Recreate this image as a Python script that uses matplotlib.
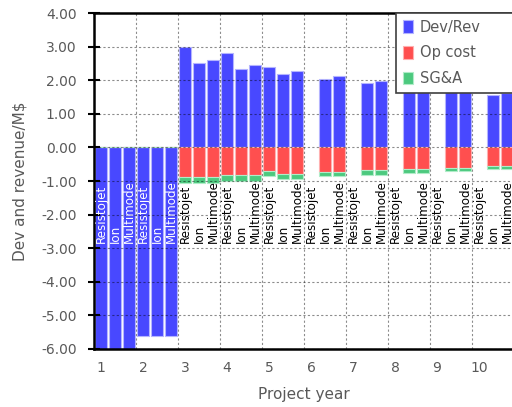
# -*- coding: utf-8 -*-

# plot.py

import matplotlib
matplotlib.use("Agg")
import matplotlib.pyplot as plt
import numpy as np

years = [1, 2, 3, 4, 5, 6, 7, 8, 9, 10]
bar_labels = ["Resistojet", "Ion", "Multimode"]

nan = np.nan
dev_rev = [
    [-6.0, -5.6, 2.98, 2.80, 2.38, nan, nan, nan, nan, nan],
    [-6.0, -5.6, 2.51, 2.34, 2.19, 2.04, 1.91, 1.85, 1.75, 1.55],
    [-6.0, -5.6, 2.60, 2.44, 2.27, 2.12, 1.98, 1.92, 1.82, 1.62],
]
op_cost = [
    [0, 0, -0.88, -0.83, -0.71, nan, nan, nan, nan, nan],
    [0, 0, -0.88, -0.83, -0.78, -0.72, -0.68, -0.63, -0.60, -0.55],
    [0, 0, -0.88, -0.83, -0.78, -0.72, -0.68, -0.63, -0.60, -0.55],
]
sga = [
    [0, 0, -0.18, -0.16, -0.13, nan, nan, nan, nan, nan],
    [0, 0, -0.18, -0.16, -0.15, -0.14, -0.13, -0.12, -0.11, -0.10],
    [0, 0, -0.18, -0.16, -0.15, -0.14, -0.13, -0.12, -0.11, -0.10],
]

blue = "#4848ff"
red = "#ff4f4f"
green = "#4cc97e"
grey = "#595959"

fig = plt.figure(figsize=(5.12, 4.07), dpi=100)
ax = fig.add_axes([94 / 512, 1 - 349 / 407, 420 / 512, 336 / 407])

n = len(years)
x0 = np.arange(n)
width = 0.286
for k in range(3):
    xs = x0 + (2 * k + 1) / 6.0
    d = np.array(dev_rev[k], dtype=float)
    o = np.array(op_cost[k], dtype=float)
    s = np.array(sga[k], dtype=float)
    ax.bar(xs, d, width, color=blue, edgecolor="#b4b4ff", linewidth=0.8,
           label="Dev/Rev" if k == 0 else None, zorder=2)
    ax.bar(xs, o, width, color=red, edgecolor="#ffb0b0", linewidth=0.8,
           label="Op cost" if k == 0 else None, zorder=2)
    ax.bar(xs, s, width, bottom=o, color=green, edgecolor="#b0ecc8",
           linewidth=0.8, label="SG&A" if k == 0 else None, zorder=2)
    for i in range(n):
        inside = not np.isnan(d[i]) and d[i] < -2.9
        ax.text(xs[i], -2.86, bar_labels[k], rotation=90, ha="center",
                va="bottom", fontsize=8.6,
                color="white" if inside else "black", zorder=4)

ax.set_xlim(0, n)
ax.set_ylim(-6, 4)
ax.set_yticks(np.arange(-6, 5, 1))
ax.set_yticklabels(["%.2f" % v for v in np.arange(-6, 5, 1)])
ax.set_xticks(x0 + 1 / 6.0)
ax.set_xticklabels([str(y) for y in years])
ax.set_xticks(np.arange(1, n), minor=True)

ax.grid(True, axis="y", which="major", color="black", alpha=0.45,
        linestyle=(0, (2, 2)), linewidth=0.8, zorder=3)
ax.grid(True, axis="x", which="minor", color="black", alpha=0.45,
        linestyle=(0, (2, 2)), linewidth=0.8, zorder=3)
ax.set_axisbelow(False)

ax.tick_params(axis="y", direction="inout", length=9, width=1.5,
               labelsize=10, labelcolor=grey, pad=8)
ax.tick_params(axis="x", which="both", length=0, labelsize=10,
               labelcolor=grey, pad=9)
for side in ["left", "top", "bottom"]:
    ax.spines[side].set_linewidth(1.8)
ax.spines["right"].set_visible(False)

ax.set_xlabel("Project year", fontsize=11, color=grey, labelpad=8)
ax.set_ylabel("Dev and revenue/M$", fontsize=11, color=grey, labelpad=10)

leg = ax.legend(loc="upper left", bbox_to_anchor=(396 / 512, 1 - 13 / 407, 0.3, 0),
                bbox_transform=fig.transFigure, mode="expand", fontsize=10.5,
                frameon=True, fancybox=False, framealpha=1, handlelength=0.7,
                handleheight=0.9, handletextpad=0.5, labelspacing=0.75,
                borderpad=0.45, borderaxespad=0)
leg.get_frame().set_edgecolor("#404040")
leg.get_frame().set_linewidth(1.2)
leg.set_zorder(10)
for t in leg.get_texts():
    t.set_color(grey)

fig.savefig("out.png", dpi=100)
